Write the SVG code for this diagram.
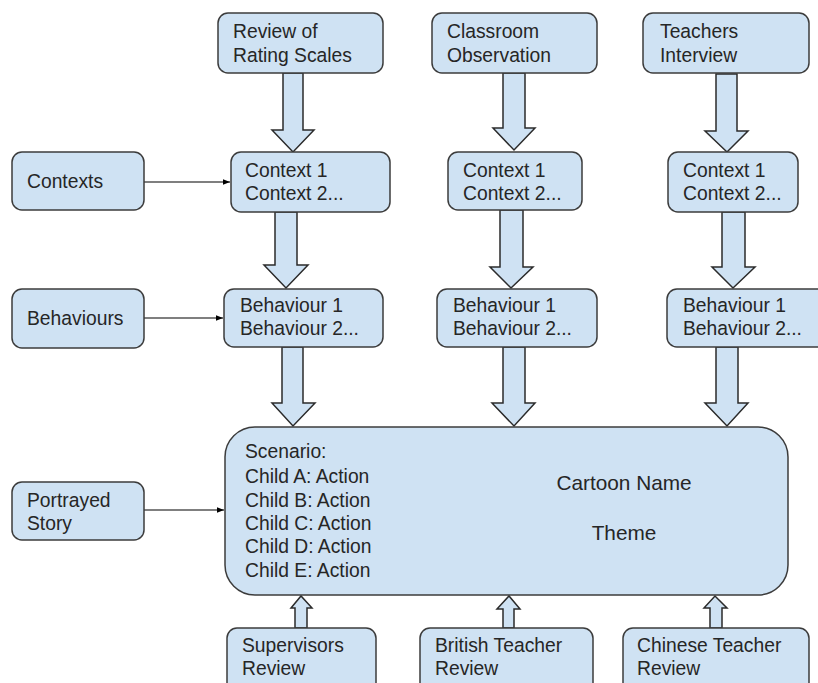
<svg xmlns="http://www.w3.org/2000/svg" width="818" height="683" viewBox="0 0 818 683">
<style>
.box{fill:#cfe2f3;stroke:#3c3c3c;stroke-width:1.5}
.fat{fill:#cfe2f3;stroke:#2b2b2b;stroke-width:1.5;stroke-linejoin:miter}
.thin{stroke:#000;stroke-width:1.2;fill:none}
text{font-family:"Liberation Sans",Arial,sans-serif;font-size:19.3px;fill:#262626}
.big{font-size:20.8px}
</style>
<defs>
<marker id="ah" viewBox="0 0 10 10" refX="10" refY="5" markerWidth="7" markerHeight="7" markerUnits="userSpaceOnUse" orient="auto">
<path d="M0,1 L10,5 L0,9 z" fill="#000"/>
</marker>
</defs>
<rect width="818" height="683" fill="#fff"/>

<g id="connectors">
<line class="thin" x1="144" y1="182" x2="230" y2="182" marker-end="url(#ah)"/>
<line class="thin" x1="144" y1="318" x2="223" y2="318" marker-end="url(#ah)"/>
<line class="thin" x1="144" y1="510" x2="224" y2="510" marker-end="url(#ah)"/>
<polygon class="fat" points="283,73 303,73 303,130 314,130 293,152 272,130 283,130"/>
<polygon class="fat" points="503,73 525,73 525,128 535,128 514,150 493,128 503,128"/>
<polygon class="fat" points="716,74 737,74 737,131 748,131 727,152 705,131 716,131"/>
<polygon class="fat" points="275,212 297,212 297,265 308,265 286,288 264,265 275,265"/>
<polygon class="fat" points="500,210 523,210 523,267 533,267 511,288 490,267 500,267"/>
<polygon class="fat" points="722,212 745,212 745,267 755,267 733,288 712,267 722,267"/>
<polygon class="fat" points="282,347 303,347 303,403 315,403 293,426 272,403 282,403"/>
<polygon class="fat" points="503,347 525,347 525,403 535,403 514,426 492,403 503,403"/>
<polygon class="fat" points="716,347 738,347 738,403 748,403 727,426 705,403 716,403"/>
<polygon class="fat" points="295,628 307,628 307,608 312,608 301,596 291,608 295,608"/>
<polygon class="fat" points="503,628 514,628 514,609 520,609 509,596 497,609 503,609"/>
<polygon class="fat" points="710,628 722,628 722,608 727,608 715,596 704,608 710,608"/>
</g>

<g id="review">
<rect class="box" x="218" y="13" width="165" height="60" rx="10"/>
<text x="233" y="38">Review of</text>
<text x="233" y="62">Rating Scales</text>
</g>
<g id="classroom">
<rect class="box" x="432" y="13" width="165" height="60" rx="10"/>
<text x="447" y="38">Classroom</text>
<text x="447" y="62">Observation</text>
</g>
<g id="teachers">
<rect class="box" x="643" y="13" width="166" height="60" rx="10"/>
<text x="660" y="38">Teachers</text>
<text x="660" y="62">Interview</text>
</g>

<g id="contexts">
<rect class="box" x="12" y="152" width="132" height="58" rx="10"/>
<text x="27" y="188">Contexts</text>
</g>
<g id="context1">
<rect class="box" x="231" y="152" width="159" height="60" rx="10"/>
<text x="245" y="177">Context 1</text>
<text x="245" y="200">Context 2...</text>
</g>
<g id="context2">
<rect class="box" x="448" y="152" width="134" height="58" rx="10"/>
<text x="463" y="177">Context 1</text>
<text x="463" y="200">Context 2...</text>
</g>
<g id="context3">
<rect class="box" x="668" y="152" width="130" height="60" rx="10"/>
<text x="683" y="177">Context 1</text>
<text x="683" y="200">Context 2...</text>
</g>

<g id="behaviours">
<rect class="box" x="12" y="289" width="132" height="59" rx="10"/>
<text x="27" y="325">Behaviours</text>
</g>
<g id="behaviour1">
<rect class="box" x="224" y="289" width="159" height="58" rx="10"/>
<text x="240" y="312">Behaviour 1</text>
<text x="240" y="335">Behaviour 2...</text>
</g>
<g id="behaviour2">
<rect class="box" x="437" y="289" width="160" height="58" rx="10"/>
<text x="453" y="312">Behaviour 1</text>
<text x="453" y="335">Behaviour 2...</text>
</g>
<g id="behaviour3">
<rect class="box" x="667" y="289" width="160" height="58" rx="10"/>
<text x="683" y="312">Behaviour 1</text>
<text x="683" y="335">Behaviour 2...</text>
</g>

<g id="portrayed">
<rect class="box" x="12" y="482" width="132" height="58" rx="10"/>
<text x="27" y="507">Portrayed</text>
<text x="27" y="530">Story</text>
</g>

<g id="scenario">
<rect class="box" x="225" y="427" width="563" height="168" rx="30"/>
<text x="245" y="458">Scenario:</text>
<text x="245" y="483">Child A: Action</text>
<text x="245" y="507">Child B: Action</text>
<text x="245" y="530">Child C: Action</text>
<text x="245" y="553">Child D: Action</text>
<text x="245" y="577">Child E: Action</text>
<text class="big" x="624" y="490" text-anchor="middle">Cartoon Name</text>
<text class="big" x="624" y="540" text-anchor="middle">Theme</text>
</g>

<g id="supervisors">
<rect class="box" x="227" y="628" width="149" height="70" rx="10"/>
<text x="242" y="652">Supervisors</text>
<text x="242" y="675">Review</text>
</g>
<g id="british">
<rect class="box" x="420" y="628" width="173" height="70" rx="10"/>
<text x="435" y="652">British Teacher</text>
<text x="435" y="675">Review</text>
</g>
<g id="chinese">
<rect class="box" x="623" y="628" width="186" height="70" rx="10"/>
<text x="637" y="652">Chinese Teacher</text>
<text x="637" y="675">Review</text>
</g>
</svg>
